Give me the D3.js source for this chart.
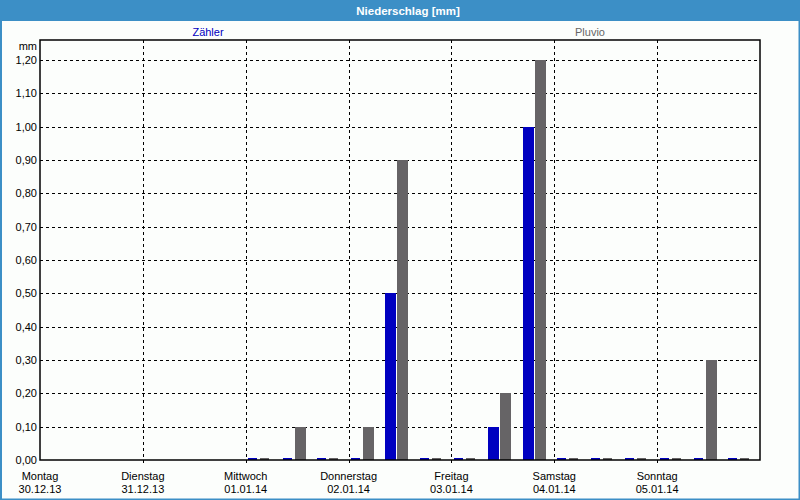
<!DOCTYPE html>
<html>
<head>
  <style>
    body { margin: 0; background: #fff; }
    svg { display: block; font-family: "Liberation Sans", Arial, sans-serif; }
    .grid line { stroke: #000; stroke-dasharray: 3,3; }
    .axis text { font-size: 11px; fill: #000; }
  </style>
</head>
<body>
  <svg id="chart" width="800" height="500"></svg>
<script src="https://cdn.jsdelivr.net/npm/d3@7"></script>
<script>
    // 8-hour slots, 30.12.13 00:00 .. 05.01.14 16:00
    const slots = [
      "30.12.13 00", "30.12.13 08", "30.12.13 16",
      "31.12.13 00", "31.12.13 08", "31.12.13 16",
      "01.01.14 00", "01.01.14 08", "01.01.14 16",
      "02.01.14 00", "02.01.14 08", "02.01.14 16",
      "03.01.14 00", "03.01.14 08", "03.01.14 16",
      "04.01.14 00", "04.01.14 08", "04.01.14 16",
      "05.01.14 00", "05.01.14 08", "05.01.14 16"
    ];
    const zaehler = [null, null, null, null, null, null,
      0, 0, 0,  0, 0.5, 0,  0, 0.1, 1.0,  0, 0, 0,  0, 0, 0];
    const pluvio = [null, null, null, null, null, null,
      0, 0.1, 0,  0.1, 0.9, 0,  0, 0.2, 1.2,  0, 0, 0,  0, 0.3, 0];

    const dayNames = ["Montag", "Dienstag", "Mittwoch", "Donnerstag", "Freitag", "Samstag", "Sonntag"];
    const dayDates = ["30.12.13", "31.12.13", "01.01.14", "02.01.14", "03.01.14", "04.01.14", "05.01.14"];
    const yTicks = [0, 0.1, 0.2, 0.3, 0.4, 0.5, 0.6, 0.7, 0.8, 0.9, 1.0, 1.1, 1.2];

    const parse = d3.timeParse("%d.%m.%y %H");
    const parseDay = d3.timeParse("%d.%m.%y");
    const de = d3.formatLocale({decimal: ",", thousands: ".", grouping: [3], currency: ["", " €"]});
    const fmt = de.format(".2f");

    const svg = d3.select("#chart");
    const pLeft = 40, pRight = 760, pTop = 40, pBottom = 460;

    // frame + header
    svg.append("rect").attr("width", 800).attr("height", 500).attr("fill", "#fcfefc");
    svg.append("rect").attr("x", 0).attr("y", 0).attr("width", 800).attr("height", 21).attr("fill", "#3c8fc6");
    svg.append("rect").attr("x", 1).attr("y", 0.5).attr("width", 798.5).attr("height", 499)
      .attr("fill", "none").attr("stroke", "#3c8fc6").attr("stroke-width", 2);
    svg.append("text").attr("x", 408).attr("y", 15).attr("text-anchor", "middle")
      .attr("fill", "#fff").style("font-weight", "bold").style("font-size", "11.5px")
      .text("Niederschlag [mm]");

    // legend
    svg.append("text").attr("x", 208).attr("y", 36).attr("text-anchor", "middle")
      .attr("fill", "#0000c0").style("font-size", "11px").text("Zähler");
    svg.append("text").attr("x", 590).attr("y", 36).attr("text-anchor", "middle")
      .attr("fill", "#666666").style("font-size", "11px").text("Pluvio");
    svg.append("text").attr("x", 37).attr("y", 50).attr("text-anchor", "end")
      .style("font-size", "11px").text("mm");

    const x = d3.scaleTime()
      .domain([parseDay("30.12.13"), parseDay("06.01.14")])
      .range([pLeft, pRight]);
    const y = d3.scaleLinear()
      .domain([0, 1.2])
      .range([pBottom, 60]);

    // horizontal grid
    svg.append("g").attr("class", "grid")
      .selectAll("line").data(yTicks.slice(1)).join("line")
      .attr("x1", pLeft).attr("x2", pRight)
      .attr("y1", d => Math.round(y(d)) + 0.5).attr("y2", d => Math.round(y(d)) + 0.5);

    // vertical grid (day boundaries)
    svg.append("g").attr("class", "grid")
      .selectAll("line").data(dayDates.slice(1)).join("line")
      .attr("x1", d => Math.round(x(parseDay(d))) + 0.5).attr("x2", d => Math.round(x(parseDay(d))) + 0.5)
      .attr("y1", pTop).attr("y2", pBottom + 4);

    // y axis
    const yAxis = d3.axisLeft(y).tickValues(yTicks).tickFormat(fmt).tickSize(0).tickPadding(3);
    svg.append("g").attr("class", "axis")
      .attr("transform", `translate(${pLeft},0)`)
      .call(yAxis)
      .call(g => g.select(".domain").remove())
      .selectAll("text").style("font-size", "11px");

    // x axis with two-line labels
    const xg = svg.append("g").attr("class", "axis");
    const lab = xg.selectAll("g").data(dayDates).join("g")
      .attr("transform", d => `translate(${x(parseDay(d))},0)`);
    lab.append("text").attr("y", 480).attr("text-anchor", "middle")
      .text((d, i) => dayNames[i]);
    lab.append("text").attr("y", 493).attr("text-anchor", "middle")
      .text(d => d);

    // bars
    const bw = 11;
    function drawBars(values, offset, color) {
      const data = slots.map((s, i) => ({t: parse(s), v: values[i]})).filter(d => d.v !== null);
      svg.append("g").selectAll("rect").data(data).join("rect")
        .attr("x", d => Math.round(x(d.t) + offset))
        .attr("width", d => d.v > 0 ? bw : bw - 2)
        .attr("y", d => d.v > 0 ? Math.round(y(d.v)) : pBottom - 2)
        .attr("height", d => d.v > 0 ? pBottom - Math.round(y(d.v)) : 2)
        .attr("fill", color);
    }
    drawBars(zaehler, 2.5, "#0000c0");
    drawBars(pluvio, 14.5, "#666466");

    // plot frame
    svg.append("rect").attr("x", pLeft).attr("y", pTop)
      .attr("width", pRight - pLeft).attr("height", pBottom - pTop)
      .attr("fill", "none").attr("stroke", "#000").attr("stroke-width", 1.5);
</script>
</body>
</html>
